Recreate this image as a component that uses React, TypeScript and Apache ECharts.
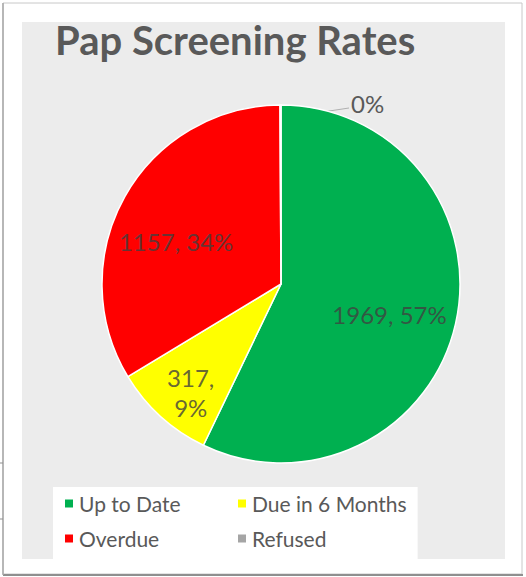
import React, { useEffect, useRef } from "react";
import * as echarts from "echarts";

const TITLE = "Pap Screening Rates";
const CATEGORIES = ["Up to Date", "Due in 6 Months", "Overdue", "Refused"];
const VALUES = [1969, 317, 1157, 3];
const COLORS = ["#00b050", "#ffff00", "#ff0000", "#a5a5a5"];
// how far out (relative to ECharts' inside-label radius) each label sits
const LABEL_SCALE = [1.27, 1.58, 1.25, 1];
const LABEL_NUDGE = [
  [-6, 4],
  [8, 0],
  [-4, 14],
  [0, 0],
];
const LABEL_FORMATS = ["{c}, {d}%", "{c},\n{d}%", "{c}, {d}%", "{d}%"];

const W = 526;
const H = 577;
const CENTER = [281, 284];
const RADIUS = 179;
const FONT = "Lato, 'Open Sans', sans-serif";

export default function App() {
  const ref = useRef<HTMLDivElement>(null);

  useEffect(() => {
    if (!ref.current) return;
    const chart = echarts.init(ref.current, undefined, { renderer: "svg" });

    const data = CATEGORIES.map((name, i) => ({
      name,
      value: VALUES[i],
      itemStyle: { color: COLORS[i] },
      label:
        i === 3
          ? {
              position: "outside",
              formatter: LABEL_FORMATS[i],
              color: "#595959",
            }
          : { position: "inside", formatter: LABEL_FORMATS[i] },
      labelLine: i === 3 ? { show: true } : { show: false },
    }));

    chart.setOption({
      animation: false,
      backgroundColor: "#ffffff",
      graphic: [
        {
          type: "rect",
          shape: { x: 3, y: 3, width: 519, height: 571 },
          style: { fill: "#ffffff", stroke: "#c8c8c8", lineWidth: 1 },
          z: 0,
        },
        {
          type: "line",
          shape: { x1: 3, y1: 575, x2: 523, y2: 575 },
          style: { stroke: "#8f8f8f", lineWidth: 2 },
          z: 1,
        },
        {
          type: "line",
          shape: { x1: 3, y1: 3, x2: 3, y2: 575 },
          style: { stroke: "#a8a8a8", lineWidth: 1.5 },
          z: 1,
        },
        {
          type: "line",
          shape: { x1: 0, y1: 463, x2: 3, y2: 463 },
          style: { stroke: "#8f8f8f", lineWidth: 1 },
          z: 1,
        },
        {
          type: "line",
          shape: { x1: 0, y1: 519, x2: 3, y2: 519 },
          style: { stroke: "#8f8f8f", lineWidth: 1 },
          z: 1,
        },
        {
          type: "rect",
          shape: { x: 22, y: 22, width: 483, height: 537 },
          style: { fill: "#ececec" },
          z: 1,
        },
      ],
      title: {
        text: TITLE,
        left: 50,
        top: 15,
        textStyle: {
          fontFamily: FONT,
          fontSize: 40,
          fontWeight: "bold",
          color: "#595959",
        },
      },
      legend: {
        data: CATEGORIES,
        left: 53,
        top: 487,
        orient: "horizontal",
        width: 360,
        padding: [6, 11, 10, 10],
        backgroundColor: "#ffffff",
        icon: "rect",
        itemWidth: 10,
        itemHeight: 10,
        itemGap: 14,
        selectedMode: false,
        textStyle: {
          fontFamily: FONT,
          fontSize: 21,
          lineHeight: 21,
          color: "#595959",
          width: 143,
        },
      },
      series: [
        {
          type: "pie",
          center: CENTER,
          radius: RADIUS,
          startAngle: 90,
          clockwise: true,
          percentPrecision: 0,
          avoidLabelOverlap: false,
          itemStyle: { borderColor: "#ffffff", borderWidth: 1.5 },
          label: {
            fontFamily: FONT,
            fontSize: 24,
            color: "rgba(64,64,64,0.8)",
            lineHeight: 30,
            align: "center",
          },
          labelLine: {
            lineStyle: { color: "#b0b0b0", width: 1 },
          },
          labelLayout: (p: any) => {
            const i = p.dataIndex;
            const r = p.labelRect;
            if (i === 3) {
              const top = CENTER[1] - RADIUS;
              const lx = CENTER[0] + 68;
              return {
                x: lx + 2,
                y: top - 2,
                align: "left",
                verticalAlign: "middle",
                labelLinePoints: [
                  [CENTER[0] + 2, top + 13],
                  [lx, top + 3],
                  [lx, top + 3],
                ],
              };
            }
            const lcx = r.x + r.width / 2;
            const lcy = r.y + r.height / 2;
            const k = LABEL_SCALE[i] - 1;
            return {
              dx: k * (lcx - CENTER[0]) + LABEL_NUDGE[i][0],
              dy: k * (lcy - CENTER[1]) + LABEL_NUDGE[i][1],
            };
          },
          data,
        },
      ],
    });

    return () => chart.dispose();
  }, []);

  return (
    <div
      ref={ref}
      style={{ position: "fixed", left: 0, top: 0, width: W, height: H }}
    />
  );
}
